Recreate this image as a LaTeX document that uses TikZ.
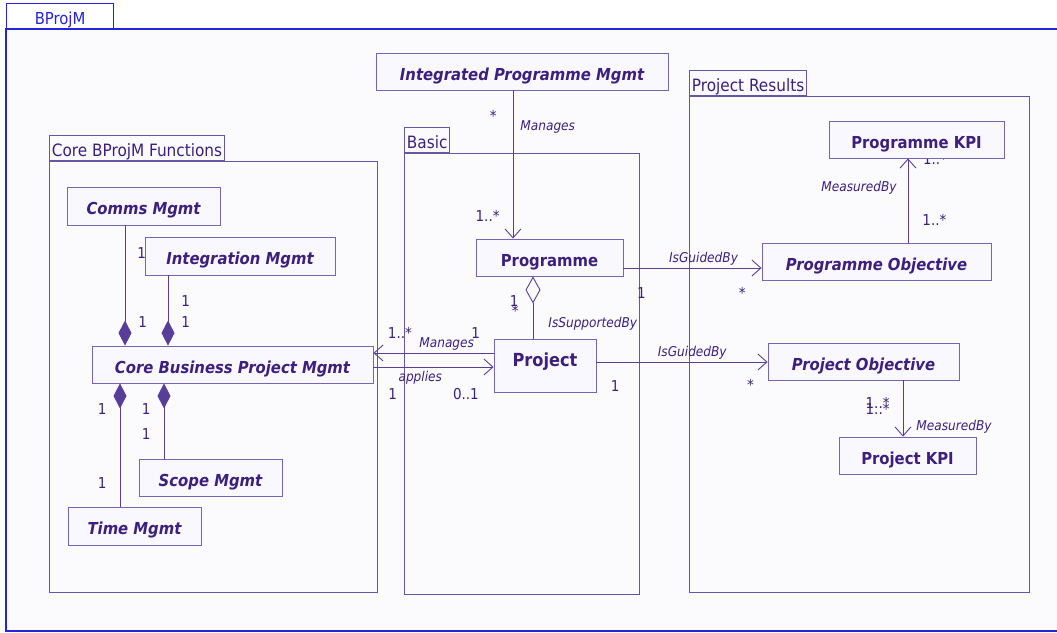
\documentclass[tikz,border=0pt]{standalone}
\usepackage{fontspec}
\setmainfont{DejaVu Sans Condensed}
\usetikzlibrary{positioning,arrows.meta}

\definecolor{framebl}{RGB}{36,36,222}
\definecolor{pkgline}{RGB}{104,84,168}
\definecolor{clsline}{RGB}{120,100,182}
\definecolor{linecol}{RGB}{88,62,152}
\definecolor{txtcol}{RGB}{62,32,124}
\definecolor{clsfill}{RGB}{248,248,254}
\definecolor{bgfill}{RGB}{251,251,254}

\begin{document}
\begin{tikzpicture}[
	x=1pt, y=-1pt,
	font=\fontsize{13}{15}\selectfont,
	umlclass/.style={
		draw=clsline,
		fill=clsfill,
		text=txtcol,
		line width=0.9pt,
		inner sep=0pt,
		minimum height=37pt,
		text height=17pt,
		text depth=0pt,
		font=\fontsize{16.5}{18}\selectfont\bfseries,
	},
	umlabs/.style={umlclass, font=\fontsize{16.5}{18}\selectfont\bfseries\itshape},
	pkgtab/.style={
		draw=pkgline,
		fill=bgfill,
		text=txtcol,
		line width=0.9pt,
		inner xsep=2.5pt,
		inner ysep=0pt,
		anchor=south west,
		minimum height=25pt,
		text height=17pt,
		text depth=0pt,
		font=\fontsize{17}{19}\selectfont,
	},
	pkgbody/.style={draw=pkgline, line width=0.9pt},
	assoc/.style={draw=linecol, line width=0.9pt, -{Straight Barb[length=9pt,width=16pt]}},
	aggr/.style={draw=linecol, line width=0.9pt, {Diamond[open,length=27pt,width=15pt]}-},
	comp/.style={draw=linecol, fill=linecol, line width=0.9pt, {Diamond[length=25pt,width=13pt]}-},
	lab/.style={text=txtcol, inner sep=1pt, font=\fontsize{13.5}{15}\selectfont\itshape},
	mult/.style={text=txtcol, inner sep=1pt, font=\fontsize{15}{17}\selectfont},
]
\useasboundingbox (0,0) rectangle (1057,632);
\fill[white] (0,0) rectangle (1057,632);

% outer package
\fill[bgfill] (6,29) rectangle (1057,631);
\draw[framebl, line width=1.2pt] (1057,29) -- (6,29) -- (6,631) -- (1057,631);
\node[draw=framebl, fill=white, text=framebl, line width=1.2pt, anchor=south west,
	minimum width=107pt, minimum height=25pt, inner sep=0pt,
	text height=17pt, text depth=0pt,
	font=\fontsize{16.5}{18}\selectfont] (bprojm) at (6,29) {BProjM};

% inner packages
\draw[pkgbody] (49,161) rectangle (377,592);
\node[pkgtab] (corepkg) at (49,161) {Core BProjM Functions};
\draw[pkgbody] (404,153) rectangle (639,594);
\node[pkgtab] (basicpkg) at (404,153) {Basic};
\draw[pkgbody] (689,96) rectangle (1029,592);
\node[pkgtab] (respkg) at (689,96) {Project Results};

% half hidden multiplicity under Programme KPI
\node[mult] (pkpimult) at (935,159) {1..*};

% classes
\node[umlabs, minimum width=292pt] (ipm) at (522,71.5) {Integrated Programme Mgmt};
\node[umlclass, minimum width=147pt] (prog) at (549.5,257.5) {Programme};
\node[umlclass, minimum width=102pt, minimum height=53pt, text height=1pt,
	font=\fontsize{18}{20}\selectfont\bfseries] (proj) at (545,365.5) {Project};
\node[umlclass, minimum width=175pt] (pkpi) at (916.5,139.5) {Programme KPI};
\node[umlabs, minimum width=229pt] (pobj) at (876.5,261.5) {Programme Objective};
\node[umlabs, minimum width=191pt] (jobj) at (863.5,361.5) {Project Objective};
\node[umlclass, minimum width=137pt] (jkpi) at (907.5,455.5) {Project KPI};
\node[umlabs, minimum width=153pt, minimum height=38pt] (comms) at (143.5,206) {Comms Mgmt};
\node[umlabs, minimum width=281pt] (core) at (232.5,364.5) {Core Business Project Mgmt};
\node[umlabs, minimum width=143pt] (scope) at (210.5,477.5) {Scope Mgmt};
\node[umlabs, minimum width=133pt, minimum height=38pt] (time) at (134.5,526) {Time Mgmt};

% Comms Mgmt goes before Integration Mgmt, whose box covers one label
\draw[comp] ([xshift=-107.5pt]core.north) -- ([xshift=-107.5pt]core.north |- comms.south)
	node[mult, pos=0.2, right=12pt] {1}
	node[mult, pos=0.77, right=11pt] {1};

\node[umlabs, minimum width=190pt, minimum height=38pt] (integ) at (240,256) {Integration Mgmt};

\draw[comp] ([xshift=-64.5pt]core.north) -- ([xshift=-64.5pt]core.north |- integ.south)
	node[mult, pos=0.34, right=12pt] {1}
	node[mult, pos=0.63, right=12pt] {1};
\draw[comp] ([xshift=-112.5pt]core.south) -- ([xshift=-112.5pt]core.south |- time.north)
	node[mult, pos=0.21, left=12pt] {1}
	node[mult, pos=0.81, left=12pt] {1};
\draw[comp] ([xshift=-68.5pt]core.south) -- ([xshift=-68.5pt]core.south |- scope.north)
	node[mult, pos=0.34, left=12pt] {1}
	node[mult, pos=0.68, left=12pt] {1};

% Basic
\draw[assoc] ([xshift=-9pt]ipm.south) -- ([xshift=-9pt]ipm.south |- prog.north)
	node[mult, pos=0.17, left=15pt] {*}
	node[lab, pos=0.25, right=6pt] {Manages}
	node[mult, pos=0.85, left=12pt] {1..*};
\draw[aggr] ([xshift=-16.5pt]prog.south) -- ([xshift=-16.5pt]prog.south |- proj.north)
	node[mult, pos=0.4, left=13pt] {1}
	node[mult, pos=0.56, left=13pt] {*}
	node[lab, pos=0.76, right=14pt] {IsSupportedBy};
\draw[assoc] ([yshift=12.5pt]proj.west) -- ([yshift=12.5pt]proj.west -| core.east)
	node[lab, pos=0.39, above=1pt] {Manages}
	node[mult, pos=0.15, above=13pt] {1}
	node[mult, pos=0.78, above=13pt] {1..*};
\draw[assoc] ([yshift=-2.5pt]core.east) -- ([yshift=-2.5pt]core.east -| proj.west)
	node[lab, pos=0.39, below=3pt] {applies}
	node[mult, pos=0.16, below=20pt] {1}
	node[mult, pos=0.77, below=20pt] {0..1};

% Project Results
\draw[assoc] ([yshift=-10.5pt]prog.east) -- ([yshift=-10.5pt]prog.east -| pobj.west)
	node[lab, pos=0.58, above=1pt] {IsGuidedBy}
	node[mult, pos=0.13, below=18pt] {1}
	node[mult, pos=0.86, below=18pt] {*};
\draw[assoc] ([yshift=3.5pt]proj.east) -- ([yshift=3.5pt]proj.east -| jobj.west)
	node[lab, pos=0.56, above=1pt] {IsGuidedBy}
	node[mult, pos=0.11, below=17pt] {1}
	node[mult, pos=0.9, below=16pt] {*};
\draw[assoc] ([xshift=31.5pt]pobj.north) -- ([xshift=31.5pt]pobj.north |- pkpi.south)
	node[lab, pos=0.65, left=10pt] {MeasuredBy}
	node[mult, pos=0.27, right=13pt] {1..*};
\draw[assoc] ([xshift=39.5pt]jobj.south) -- ([xshift=39.5pt]jobj.south |- jkpi.north)
	node[mult, pos=0.4, left=12pt] {1..*}
	node[mult, pos=0.5, left=12pt] {1..*}
	node[lab, pos=0.82, right=12pt] {MeasuredBy};

\end{tikzpicture}
\end{document}
